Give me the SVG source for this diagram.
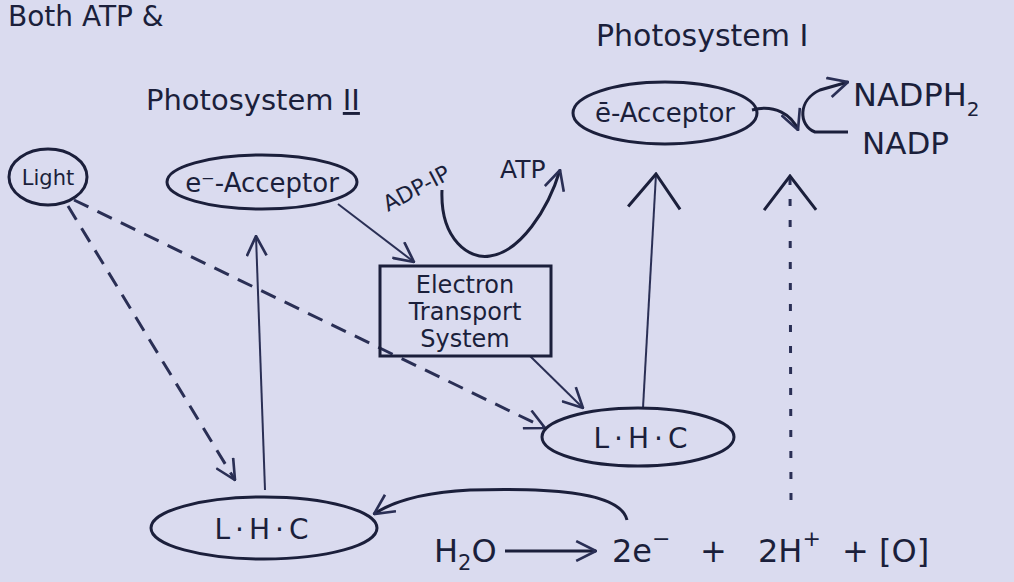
<svg xmlns="http://www.w3.org/2000/svg" width="1014" height="582" viewBox="0 0 1014 582">
<defs>
<style>
.t{font-family:"DejaVu Sans","Liberation Sans",sans-serif;fill:#1b1f3b}
.o{fill:none;stroke:#1b1f3b;stroke-width:3}
.l{fill:none;stroke:#2a2f55;stroke-width:2}
.d{fill:none;stroke:#2a2f55;stroke-width:3;stroke-dasharray:16 10}
.dv{fill:none;stroke:#2a2f55;stroke-width:3;stroke-dasharray:7 14}
</style>
<marker id="vm" viewBox="0 0 20 20" refX="19" refY="10" markerWidth="22" markerHeight="22" markerUnits="userSpaceOnUse" orient="auto">
<path d="M1,1 L19,10 L1,19" fill="none" stroke="#2a2f55" stroke-width="2.4"/>
</marker>
<marker id="vb" viewBox="0 0 40 60" refX="38" refY="30" markerWidth="40" markerHeight="60" markerUnits="userSpaceOnUse" orient="auto">
<path d="M4,4 L38,30 L4,56" fill="none" stroke="#1b1f3b" stroke-width="3"/>
</marker>
</defs>
<rect width="1014" height="582" fill="#dadbef"/>

<text class="t" x="8" y="26" font-size="28">Both  ATP  &amp;</text>

<g id="title-ps1"><text class="t" x="596" y="46" font-size="30">Photosystem I</text></g>
<g id="title-ps2"><text class="t" x="146" y="110" font-size="29">Photosystem <tspan text-decoration="underline">II</tspan></text></g>

<g id="connectors">
<path class="d" d="M74,200 L545,428" marker-end="url(#vm)"/>
<path class="d" d="M68,206 L235,480" marker-end="url(#vm)"/>
<path class="l" d="M265,490 L256,236" marker-end="url(#vm)"/>
<path class="l" d="M338,204 L414,262" marker-end="url(#vm)"/>
<path class="l" d="M530,356 L583,408" marker-end="url(#vm)"/>
<path class="o" d="M442,190 C440,240 470,260 490,256 C520,252 548,210 560,170" marker-end="url(#vm)"/>
<path class="l" d="M643,408 L656,174" marker-end="url(#vb)"/>
<path class="dv" d="M791,500 L790,176" marker-end="url(#vb)"/>
<path class="o" d="M752,110 C775,104 792,115 798,130" marker-end="url(#vm)"/>
<path class="o" d="M848,132 L815,132 C798,125 798,100 820,90 L848,82" marker-end="url(#vm)"/>
<path class="o" d="M627,520 C620,490 540,488 470,490 C430,492 395,500 374,514" marker-end="url(#vm)"/>
<path class="o" d="M505,551 L596,551" marker-end="url(#vm)"/>
</g>

<g id="light"><ellipse class="o" cx="48" cy="177" rx="39" ry="28"/><text class="t" x="48" y="185" font-size="21" text-anchor="middle">Light</text></g>
<g id="acceptor-ps2"><ellipse class="o" cx="262" cy="182" rx="95" ry="27"/><text class="t" x="262" y="192" font-size="26" text-anchor="middle">e⁻-Acceptor</text></g>
<g id="acceptor-ps1"><ellipse class="o" cx="665" cy="113" rx="92" ry="31"/><text class="t" x="665" y="122" font-size="26" text-anchor="middle">ē-Acceptor</text></g>
<g id="adp"><text class="t" x="0" y="0" font-size="22" transform="translate(388,212) rotate(-28)">ADP-IP</text></g>
<g id="atp"><text class="t" x="500" y="178" font-size="25">ATP</text></g>
<g id="ets"><rect class="o" x="380" y="266" width="171" height="90"/>
<text class="t" font-size="24" text-anchor="middle"><tspan x="465" y="293">Electron</tspan><tspan x="465" y="320">Transport</tspan><tspan x="465" y="347">System</tspan></text></g>
<g id="lhc1"><ellipse class="o" cx="638" cy="437" rx="96" ry="29"/><text class="t" x="643" y="448" font-size="28" letter-spacing="5" text-anchor="middle">L·H·C</text></g>
<g id="lhc2"><ellipse class="o" cx="264" cy="528" rx="113" ry="31"/><text class="t" x="264" y="539" font-size="28" letter-spacing="5" text-anchor="middle">L·H·C</text></g>
<g id="nadph"><text class="t" x="853" y="106" font-size="32">NADPH<tspan font-size="20" dy="10">2</tspan></text></g>
<g id="nadp"><text class="t" x="862" y="154" font-size="31">NADP</text></g>
<g id="equation"><text class="t" y="562" font-size="32"><tspan x="434">H</tspan><tspan font-size="21" dy="8">2</tspan><tspan dy="-8">O</tspan><tspan x="612">2e</tspan><tspan font-size="22" dy="-16">−</tspan><tspan x="700" dy="16">+</tspan><tspan x="758">2H</tspan><tspan font-size="22" dy="-16">+</tspan><tspan x="842" dy="16">+ [O]</tspan></text></g>
</svg>
